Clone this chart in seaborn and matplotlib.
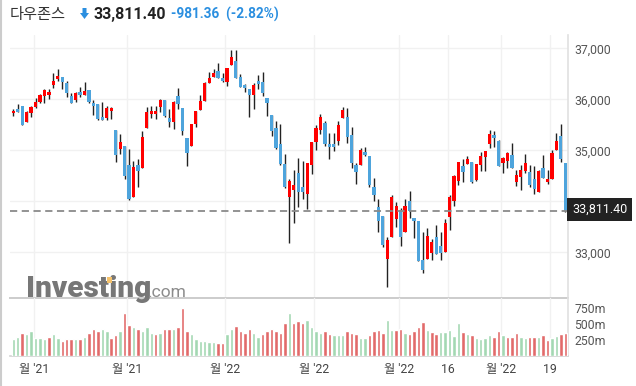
import matplotlib
matplotlib.use("Agg")
import matplotlib.pyplot as plt
from matplotlib.patches import Polygon, Rectangle
from matplotlib.lines import Line2D
import numpy as np
import pandas as pd
import seaborn as sns

# daily OHLC of the index (oldest first)
opens = [35725, 35810, 35869, 35562, 35738, 35856, 35954, 36072, 36091, 36281,
         36398, 36438, 36327, 36072, 35987, 36150, 36091, 36183, 35934, 35908,
         35653, 35640, 35777, 35398, 35032, 35085, 34712, 34091, 34712, 34660,
         35444, 35719, 35719, 35856, 35987, 35627, 35562, 36065, 35830, 35241,
         35091, 35523, 35797, 35973, 36327, 36444, 36549, 36418, 36346, 36666,
         36751, 36438, 36281, 36196, 36078, 36359, 36340, 36026, 35692, 35438,
         35124, 34732, 34091, 34215, 34555, 34281, 34150, 34719, 35170, 35405,
         35536, 35124, 35124, 35189, 35640, 35653, 35300, 34712, 34706, 34974,
         34889, 34281, 33889, 33712, 32862, 33307, 33660, 33830, 33405, 34000,
         33666, 33614, 32849, 32875, 32980, 33300, 33124, 33013, 33686, 34006,
         34398, 34692, 34725, 34764, 34425, 34719, 34862, 35130, 35300, 35183,
         34758, 34797, 34902, 34385, 34470, 34588, 34575, 34438, 34189, 34653,
         34385, 34431, 35000, 35281, 34751]
highs = [35810, 35902, 35869, 35771, 35875, 36019, 36104, 36202, 36196, 36510,
         36588, 36438, 36366, 36117, 36143, 36248, 36333, 36183, 35987, 35908,
         35941, 35869, 35856, 35398, 35313, 35085, 35019, 34784, 34830, 35379,
         35843, 35862, 35869, 36006, 35987, 35804, 35960, 36215, 35830, 35241,
         35510, 35771, 36085, 36333, 36536, 36588, 36706, 36510, 36614, 36967,
         36967, 36490, 36294, 36196, 36313, 36477, 36536, 36026, 35692, 35568,
         35510, 34921, 34431, 34614, 34849, 34784, 34751, 35163, 35490, 35712,
         35568, 35346, 35346, 35581, 35843, 35823, 35451, 34758, 35052, 35058,
         34889, 34464, 34039, 33712, 33294, 34124, 33980, 33862, 34039, 34202,
         33666, 33614, 33405, 33470, 33255, 33529, 33405, 33647, 34124, 34522,
         34771, 34823, 34895, 34764, 34732, 34960, 34987, 35398, 35379, 35202,
         34876, 34967, 35137, 34614, 34712, 34921, 34719, 34686, 34614, 34902,
         34614, 35006, 35340, 35510, 34751]
lows = [35673, 35758, 35503, 35562, 35660, 35823, 35921, 35921, 36013, 36215,
        36353, 36196, 36039, 35934, 35954, 36052, 36091, 35934, 35686, 35588,
        35601, 35594, 35621, 34777, 34921, 34431, 34026, 34091, 34287, 34660,
        35444, 35627, 35607, 35745, 35647, 35464, 35411, 35804, 35307, 34692,
        35091, 35464, 35797, 35973, 36327, 36444, 36411, 36340, 36268, 36666,
        36424, 36248, 36137, 35660, 35804, 36196, 36072, 35673, 35287, 35026,
        34706, 34261, 33176, 33568, 33895, 34039, 33843, 34529, 35000, 35326,
        35085, 34823, 34993, 35111, 35640, 35137, 34647, 34333, 34706, 34889,
        34281, 34000, 33392, 33111, 32313, 33307, 33490, 33130, 33405, 33666,
        33274, 32836, 32601, 32875, 32849, 32974, 32849, 33013, 33438, 33915,
        34313, 34372, 34725, 34366, 34398, 34594, 34594, 35052, 35072, 34699,
        34562, 34647, 34647, 34307, 34222, 34549, 34287, 34143, 34189, 34451,
        34346, 34431, 35000, 34777, 33797]
closes = [35777, 35758, 35503, 35751, 35850, 35947, 36085, 36183, 36150, 36359,
          36457, 36346, 36117, 35934, 36117, 36085, 36163, 35947, 35875, 35607,
          35601, 35830, 35830, 34908, 35163, 34496, 34045, 34679, 34601, 35255,
          35751, 35777, 35777, 35987, 35673, 35555, 35947, 35908, 35385, 34954,
          35510, 35771, 35967, 36320, 36418, 36516, 36424, 36366, 36614, 36830,
          36424, 36248, 36228, 36091, 36274, 36307, 36130, 35934, 35385, 35052,
          34738, 34287, 34398, 34313, 34189, 34183, 34751, 35163, 35438, 35653,
          35124, 35072, 35072, 35496, 35790, 35268, 34758, 34581, 35006, 34915,
          34326, 34117, 33621, 33150, 33241, 34085, 33908, 33307, 33908, 33817,
          33621, 32836, 32653, 33320, 33202, 32974, 32980, 33575, 34085, 34496,
          34771, 34581, 34830, 34385, 34732, 34889, 34987, 35320, 35248, 34699,
          34856, 34941, 34660, 34516, 34614, 34751, 34326, 34248, 34594, 34464,
          34438, 34947, 35183, 34823, 33811.40]
# volume in millions, G = up day bar, R = down day bar
volumes = [260, 302, 354, 339, 396, 287, 287, 260, 302, 339,
           276, 240, 271, 260, 271, 271, 302, 354, 417, 396,
           417, 386, 276, 323, 396, 667, 479, 458, 427, 396,
           458, 365, 339, 354, 427, 427, 417, 458, 745, 386,
           339, 271, 240, 240, 224, 214, 198, 208, 339, 417,
           469, 386, 354, 427, 354, 302, 339, 386, 417, 386,
           354, 511, 667, 511, 542, 511, 563, 458, 386, 354,
           386, 339, 323, 323, 323, 386, 365, 339, 276, 276,
           323, 386, 406, 354, 563, 406, 401, 417, 365, 339,
           386, 458, 526, 406, 370, 339, 370, 370, 406, 313,
           511, 370, 339, 323, 287, 260, 276, 323, 292, 386,
           323, 292, 292, 354, 292, 276, 302, 302, 292, 323,
           245, 276, 307, 339, 354]
vol_dir = list("GGRGGGGGRG" "GRRRGRGRRR" "GGRRGRRGRG" "GGRGRRGRRR"
               "GGGGGGRRGG" "RRRRGGRRRR" "RRGRRRGGGG" "RRGGGRRRGG"
               "RRRRGGRRGR" "RRRGRRGGGG" "GRGRGGGGRR" "GRRRGGRRGR"
               "RGGRR")

tick_days = [5, 26, 48, 68, 87, 98, 110, 121]
tick_labels = ["월 '21", "월 '21", "월 '22", "월 '22", "월 '22", "16", "월 '22", "19"]
price_ticks = [33000, 34000, 35000, 36000, 37000]
vol_ticks = [250, 500, 750]
title = "다우존스"
last_close = 33811.40
change = -981.36
change_pct = -2.82

sns.set_theme(style="white")
plt.rcParams['font.family'] = ['Roboto', 'Noto Sans CJK KR', 'DejaVu Sans']

W, H = 636, 386
fig = plt.figure(figsize=(W / 100, H / 100), dpi=100)
fig.patch.set_facecolor('white')


def box(x0, y0, x1, y1):
    return [x0 / W, 1 - y1 / H, (x1 - x0) / W, (y1 - y0) / H]


def px(x, y):
    return (x / W, 1 - y / H)


ax = fig.add_axes(box(10, 35, 568, 298))
axv = fig.add_axes(box(10, 298, 568, 356))

df = pd.DataFrame(dict(o=opens, h=highs, l=lows, c=closes, v=volumes, d=vol_dir))
df['i'] = np.arange(len(df))
up = df.c >= df.o
body_col = np.where(up, '#ff0000', '#4ea4dc')

# candles
ax.vlines(df.i, df.l, df.h, color='#222222', lw=1.0, zorder=3)
body = (df.c - df.o).abs().clip(lower=18)
ax.bar(df.i, body, bottom=np.minimum(df.o, df.c), width=0.72, color=body_col,
       linewidth=0, zorder=4)
ax.axhline(last_close, color='#8a8a8a', lw=1.3, ls=(0, (4, 2.5)), zorder=5)

# volume
sns.barplot(data=df, x='i', y='v', hue='d', palette={'G': '#a3d8b2', 'R': '#e26a6a'},
            native_scale=True, width=0.78, dodge=False, legend=False,
            errorbar=None, saturation=1, ax=axv, zorder=3)

xt = np.array(tick_days) - 0.4
for a in (ax, axv):
    a.set_xlim(-0.74, 124.6)
    a.set_xticks(xt)
    a.grid(axis='x', color='#f1f1f1', lw=1)
    a.set_axisbelow(True)
    a.set_facecolor('none')
    for s in a.spines.values():
        s.set_visible(False)
    a.spines['right'].set_visible(True)
    a.spines['right'].set_color('#e2e2e2')
    a.spines['bottom'].set_visible(True)
    a.yaxis.tick_right()
    a.tick_params(axis='y', length=0, pad=4.5, labelsize=8.8, labelcolor='#555555')
    a.set_xlabel('')
    a.set_ylabel('')

ax.spines['bottom'].set_color('#cccccc')
ax.spines['bottom'].set_linewidth(1.4)
ax.set_ylim(32104, 37261)
ax.set_yticks(price_ticks)
ax.set_yticklabels([f"{t:,}" for t in price_ticks])
ax.grid(axis='y', color='#f1f1f1', lw=1)
ax.tick_params(axis='x', labelbottom=False, length=0)

axv.spines['bottom'].set_color('#d5d5d5')
axv.set_ylim(0, 906)
axv.set_yticks(vol_ticks)
axv.set_yticklabels([f"{t}m" for t in vol_ticks])
axv.set_xticklabels(tick_labels)
axv.tick_params(axis='x', length=0, pad=5, labelsize=8.8, labelcolor='#444444')

# last price tag (covers the lower part of the 34,000 label, as in the source)
fig.text(572 / W, 1 - 209.5 / H, f"{last_close:,.2f}", color='white', fontsize=9,
         va='center', ha='left', zorder=10,
         bbox=dict(boxstyle='square,pad=0.38', fc='#222222', ec='none'))

# header
fig.text(10 / W, 1 - 14 / H, title, fontsize=11, color='#333333', va='center',
         family=['Noto Sans CJK KR'])
fig.add_artist(Polygon([px(82.5, 8), px(86.5, 8), px(86.5, 13), px(89, 13), px(84.5, 19),
                        px(80, 13), px(82.5, 13)], closed=True, transform=fig.transFigure,
                       fc='#2b8fe0', ec='none'))
fig.text(94 / W, 1 - 14 / H, f"{last_close:,.2f}", fontsize=11.5, fontweight='bold',
         color='#222222', va='center')
fig.text(171 / W, 1 - 14 / H, f"{change:,.2f}  ({change_pct:.2f}%)", fontsize=9.8,
         fontweight='bold', color='#2b8fe0', va='center')

# watermark
fig.text(26 / W, 1 - 297 / H, "Investing", fontsize=21.5, fontweight='heavy',
         color='#777777', va='baseline', zorder=0)
fig.text(148 / W, 1 - 297 / H, ".com", fontsize=12.6, color='#8c8c8c',
         va='baseline', zorder=0)
fig.add_artist(Rectangle(px(106.5, 283), 5 / W, 6 / H, transform=fig.transFigure,
                         fc='#f6c36c', ec='none'))

# outer border
fig.add_artist(Line2D([0.8 / W, 0.8 / W], [0, 1], transform=fig.transFigure,
                      color='#cccccc', lw=1.5))

fig.savefig("out.png", dpi=100)
